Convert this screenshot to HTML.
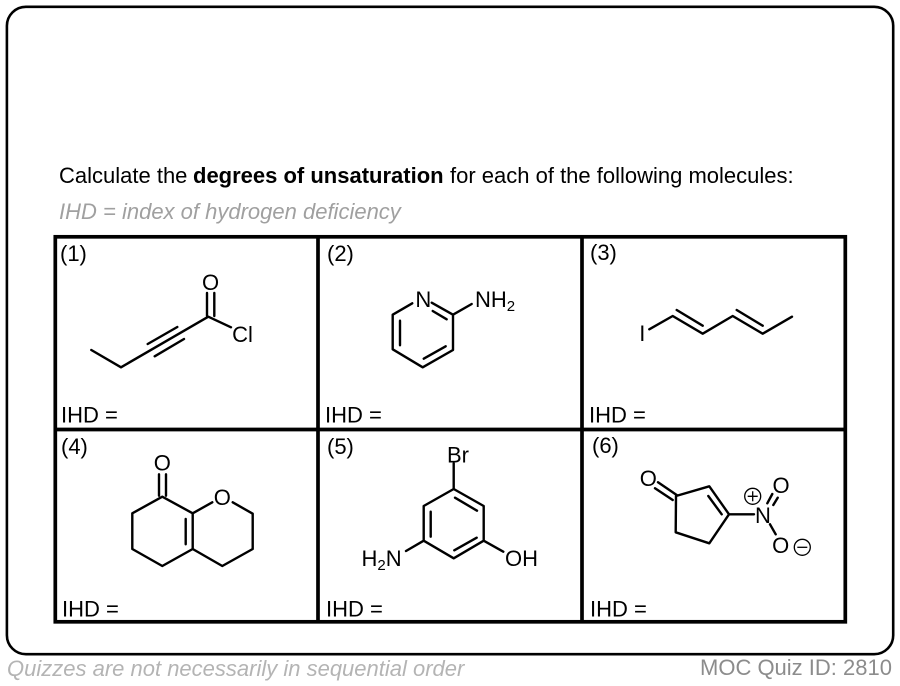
<!DOCTYPE html>
<html><head><meta charset="utf-8"><style>
html,body{margin:0;padding:0;background:#fff;width:900px;height:686px;overflow:hidden}
svg{display:block}
text{font-family:"Liberation Sans",Arial,sans-serif;fill:#000}
.m{font-size:22px;text-anchor:middle}
.l{font-size:22px}
.s{font-size:15px}
.b path{fill:none;stroke:#000;stroke-width:2.4;stroke-linecap:round;stroke-linejoin:round}
</style></head><body>
<svg width="900" height="686" viewBox="0 0 900 686" xmlns="http://www.w3.org/2000/svg">
<rect x="6.9" y="6.8" width="886.3" height="647.4" rx="19" fill="#fff" stroke="#000" stroke-width="2.6"/>
<text x="59" y="183" font-size="22">Calculate the</text>
<text x="193" y="183" font-size="22" font-weight="700">degrees of unsaturation</text>
<text x="450" y="183" font-size="22">for each of the following molecules:</text>
<text x="59" y="219" font-size="22" font-style="italic" style="fill:#a0a0a0">IHD = index of hydrogen deficiency</text>
<g fill="none" stroke="#000" stroke-width="3.7">
<rect x="55.3" y="236.8" width="790" height="385"/>
<path d="M318 236.8V621.8M582 236.8V621.8M55.3 429.5H845.3"/>
</g>
<g>
<text class="l" x="60" y="261">(1)</text><text class="l" x="327" y="261">(2)</text><text class="l" x="590" y="260">(3)</text>
<text class="l" x="61" y="454">(4)</text><text class="l" x="327" y="454">(5)</text><text class="l" x="592" y="453">(6)</text>
<text class="l" x="61" y="422.5">IHD =</text><text class="l" x="325" y="422.5">IHD =</text><text class="l" x="589" y="422.5">IHD =</text>
<text class="l" x="62" y="616.5">IHD =</text><text class="l" x="326" y="616.5">IHD =</text><text class="l" x="590" y="616.5">IHD =</text>
</g>
<g class="b">
<path d="M91.3 350L121 367.3L208.3 316.7L231 327.3M147.7 344L177.3 327M154.7 356.3L184 339M207 316V293M214.3 316V293"/>
<path d="M412.3 303.3L392.7 314.7V349.3L422.7 367.3L453 350V314.7L431.7 302.7M446.7 319.3L432.7 311M400 320.7V345.3M423.7 358.7L445.7 346.3M453 314.7L471.7 304"/>
<path d="M649.3 329.3L672.7 316L702.7 333.7L732.7 316L762.7 333.7L792 316.7M676.7 310L702.7 325.7M736.7 310L762.7 325.7"/>
<path d="M159 495.7V474.3M166 495.7V474.3M212.3 502.3L192.7 513.3L162.3 496.7L132.3 513.3V549L162.3 566L192.7 549V513.3M192.7 549L222.3 566L252.7 549V513.7L232.7 502.3M185.7 519V544.3"/>
<path d="M453.7 463.3V489L483.7 506V540.7L453.7 558.3L423.7 540.7V506L453.7 489M455 497.7L477 510.7M430.7 511.7V536.7M454.3 550.3L476.7 537.7M423.7 540.7L406 551M483.7 540.7L503.3 551.7"/>
<path d="M658 482.3L676.7 495M655 488.3L672.7 500M676 496L709.3 486.3L729 514.3L709.3 543.3L675.7 532.3L676 496M708.3 496L721.7 514.3M729 514.3H754M767.3 503.3L772.3 494M773.3 505L777.7 497.7M770 524.3L775.7 534.3"/>
</g>
<text class="m" x="210.5" y="290">O</text>
<text class="m" x="242.5" y="342">Cl</text>
<text class="m" x="423.3" y="307">N</text>
<text class="l" x="475" y="307">NH<tspan class="s" dy="4">2</tspan></text>
<text class="m" x="642.3" y="341">I</text>
<text class="m" x="162.3" y="470.5">O</text>
<text class="m" x="222.3" y="505">O</text>
<text class="m" x="458" y="462.5">Br</text>
<text class="l" x="361.5" y="566">H<tspan class="s" dy="4">2</tspan><tspan dy="-4">N</tspan></text>
<text class="l" x="505" y="566">OH</text>
<text class="m" x="648.3" y="486">O</text>
<text class="m" x="763" y="523">N</text>
<text class="m" x="781" y="493">O</text>
<text class="m" x="780.7" y="553">O</text>
<g fill="none" stroke="#000" stroke-width="1.3">
<circle cx="752.7" cy="496.3" r="8"/><path d="M747.7 496.3H757.7M752.7 491.3V501.3"/>
<circle cx="802.3" cy="547.3" r="8"/><path d="M797.3 547.3H807.3"/>
</g>
<text x="7" y="676" font-size="22" font-style="italic" style="fill:#b4b4b4">Quizzes are not necessarily in sequential order</text>
<text x="700" y="675" font-size="22" style="fill:#8c8c8c">MOC Quiz ID: 2810</text>
</svg>
</body></html>
